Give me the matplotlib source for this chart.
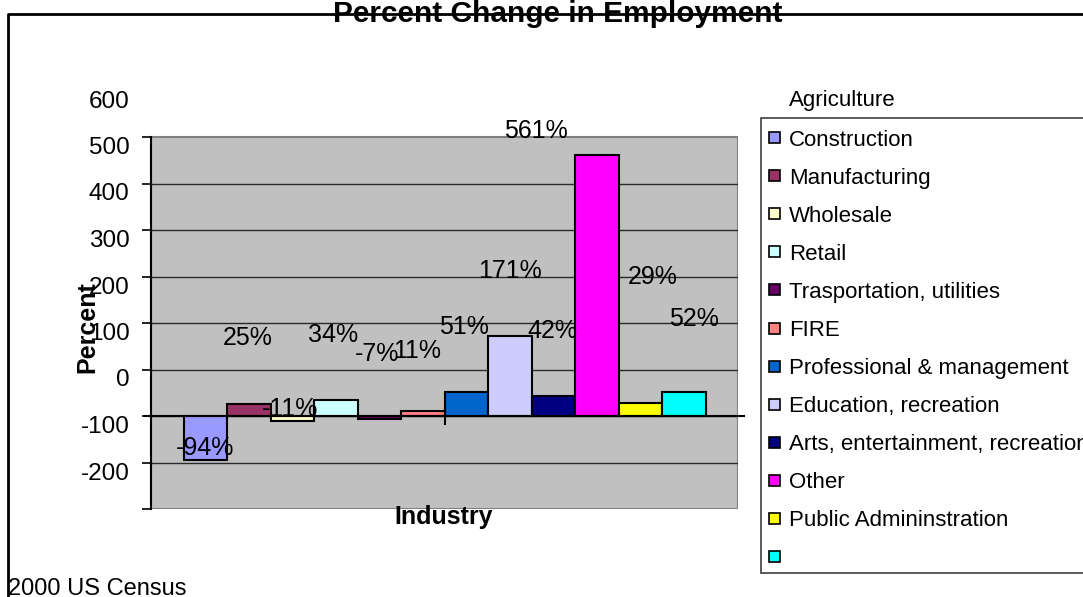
import matplotlib.pyplot as plt
import numpy as np
from matplotlib.patches import Rectangle
from matplotlib.lines import Line2D

plt.rcParams['font.family'] = ['Liberation Sans', 'DejaVu Sans']

# percent change by industry, 1990 -> 2000
values = [-94, 25, -11, 34, -7, 11, 51, 171, 42, 561, 29, 52]
colors = ['#9999FF', '#993366', '#FFFFCC', '#CCFFFF', '#660066', '#FF8080',
          '#0066CC', '#CCCCFF', '#000080', '#FF00FF', '#FFFF00', '#00FFFF']
legend_header = 'Agriculture'
legend_labels = ['Construction', 'Manufacturing', 'Wholesale', 'Retail',
                 'Trasportation, utilities', 'FIRE', 'Professional & management',
                 'Education, recreation', 'Arts, entertainment, recreation',
                 'Other', 'Public Admininstration', '']
y_ticks = list(range(-300, 700, 100))

# where the value labels sit: shift in bar widths, height in axis units
label_dx = [0, -0.02, -0.05, -0.06, -0.05, -0.13, -0.05, 0.01, -0.02, -1.41, 0.28, 0.24]
label_y = [-168, 67, -84, 75, 34, 39, 92, 211, 82, 512, 200, 108]

W, H = 1083, 597
fig = plt.figure(figsize=(W / 100, H / 100), dpi=100)
fig.patch.set_facecolor('white')

def fx(px):
    return px / W

def fy(py):
    return 1 - py / H

ax = fig.add_axes([fx(151), fy(509), fx(738) - fx(151), fy(90.5) - fy(509)])
ax.set_facecolor('none')
ax.set_xlim(-0.5, 0.5)
ax.set_ylim(-300, 600)

# grey plot area
ax.add_patch(Rectangle((-0.5, -300), 1, 800, facecolor='#C0C0C0',
                       edgecolor='#808080', linewidth=1.5, zorder=0))
for y in range(-200, 500, 100):
    ax.axhline(y, color='#2a2a2a', linewidth=1.0, zorder=1)

# bars hang from the category axis at -100
bw = 43.5 / 587
x = (np.arange(len(values)) - (len(values) - 1) / 2) * bw
ax.bar(x, values, width=bw, bottom=-100, color=colors,
       edgecolor='black', linewidth=1.5, zorder=3)
ax.plot([-0.51, 0.51], [-100, -100], color='black', linewidth=1.5,
        zorder=4, clip_on=False)
ax.vlines(0, -119, -83, color='black', linewidth=1.5, zorder=4)

for xi, v, dx, ly in zip(x, values, label_dx, label_y):
    ax.text(xi + dx * bw, ly, f'{v}%', ha='center', va='center',
            fontsize=18, zorder=6, clip_on=False)

# axes, ticks
for s in ['top', 'right', 'bottom']:
    ax.spines[s].set_visible(False)
ax.spines['left'].set_bounds(-300, 500)
ax.spines['left'].set_linewidth(1.5)
ax.set_xticks([])
ax.set_yticks(y_ticks)
ax.set_yticklabels(['' if t == -300 else str(t) for t in y_ticks])
ax.tick_params(axis='y', direction='out', length=6.5, width=1.2, pad=9,
               labelsize=17.5)
for lbl in ax.get_yticklabels():
    lbl.set_verticalalignment('top')
ax.yaxis.get_major_ticks()[-1].tick1line.set_visible(False)

# titles
fig.text(fx(558), fy(22), 'Percent Change in Employment', ha='center',
         va='baseline', fontsize=21.5, fontweight='bold')
fig.text(fx(87), fy(327), 'Percent', rotation=90, ha='center', va='center',
         fontsize=18, fontweight='bold')
fig.text(fx(444), fy(524), 'Industry', ha='center', va='baseline',
         fontsize=18, fontweight='bold')
fig.text(fx(8), fy(595), '2000 US Census', ha='left', va='baseline',
         fontsize=17)

# chart frame
fig.add_artist(Line2D([fx(8), fx(8), 1.0], [0, fy(13.5), fy(13.5)],
                      transform=fig.transFigure, color='black', linewidth=2))

# legend
fig.add_artist(Rectangle((fx(761), fy(573)), 0.5, fy(118) - fy(573),
                         transform=fig.transFigure, facecolor='white',
                         edgecolor='#404040', linewidth=1.2))
fig.text(fx(789), fy(106), legend_header, ha='left', va='baseline', fontsize=16)
for i, (name, c) in enumerate(zip(legend_labels, colors)):
    yc = 137.5 + 38.1 * i
    fig.add_artist(Rectangle((fx(768.5), fy(yc + 5.5)), fx(11), 11 / H,
                             transform=fig.transFigure, facecolor=c,
                             edgecolor='black', linewidth=1.2))
    fig.text(fx(789), fy(yc + 8), name, ha='left', va='baseline', fontsize=16)

fig.savefig('out.png', dpi=100)
